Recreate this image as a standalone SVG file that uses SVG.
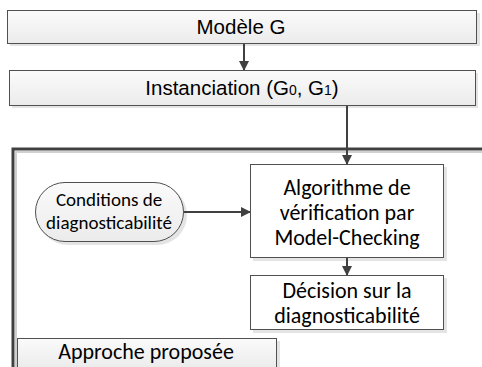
<svg xmlns="http://www.w3.org/2000/svg" width="482" height="367" viewBox="0 0 482 367">
<defs>
<linearGradient id="g1" x1="0" y1="0" x2="0" y2="1"><stop offset="0" stop-color="#fbfbfb"/><stop offset="1" stop-color="#ebebeb"/></linearGradient>
<marker id="ah" markerWidth="10" markerHeight="10" refX="9" refY="5" orient="auto" markerUnits="userSpaceOnUse"><path d="M0,0 L10,5 L0,10 z" fill="#404040"/></marker>
</defs>
<style>
.box{stroke:#505050;stroke-width:1}
.sh{fill:#e4e4e4}
.ta{font-family:"Liberation Sans",Arial,sans-serif;font-size:20.5px;fill:#000;text-anchor:middle}
.tc{font-family:Carlito,Lato,"Liberation Sans",sans-serif;font-size:22px;fill:#000;text-anchor:middle}
.ts{font-family:Carlito,Lato,"Liberation Sans",sans-serif;font-size:19px;fill:#000;text-anchor:middle}
.ln{stroke:#404040;stroke-width:2;fill:none}
</style>
<rect width="482" height="367" fill="#fff"/>
<g id="frame">
<path d="M16,367 V152 H482" stroke="#d0d0d0" stroke-width="2" fill="none"/>
<path d="M13,367 V149 H482" stroke="#404040" stroke-width="3" fill="none"/>
</g>
<g id="n1">
<rect class="sh" x="10" y="13" width="470" height="33"/>
<rect class="box" x="7.5" y="10.5" width="469" height="33" fill="url(#g1)"/>
<text class="ta" x="241" y="34">Modèle G</text>
</g>
<g id="n2">
<rect class="sh" x="12" y="73" width="466" height="35"/>
<rect class="box" x="9.5" y="70.5" width="466" height="35" fill="url(#g1)"/>
<text class="ta" x="242" y="95">Instanciation (G<tspan font-size="14">0</tspan>, G<tspan font-size="14">1</tspan>)</text>
</g>
<g id="n3">
<rect class="sh" x="253" y="167" width="194" height="94"/>
<rect class="box" x="250.5" y="164.5" width="193" height="93" fill="#fff"/>
<text class="tc" x="347" y="195">Algorithme de</text>
<text class="tc" x="347" y="220">vérification par</text>
<text class="tc" x="347" y="245">Model-Checking</text>
</g>
<g id="n4">
<rect class="sh" x="253" y="278" width="194" height="55"/>
<rect class="box" x="250.5" y="275.5" width="193" height="54" fill="#fff"/>
<text class="tc" x="347" y="298">Décision sur la</text>
<text class="tc" x="347" y="323">diagnosticabilité</text>
</g>
<g id="n5">
<rect class="sh" x="38" y="185" width="149" height="60" rx="30"/>
<rect class="box" x="35.5" y="182.5" width="148" height="59" rx="29.5" fill="url(#g1)"/>
<text class="ts" x="109" y="206">Conditions de</text>
<text class="ts" x="109" y="229">diagnosticabilité</text>
</g>
<g id="n6">
<rect class="sh" x="20" y="341" width="260" height="30"/>
<rect class="box" x="17.5" y="338.5" width="259" height="30" fill="url(#g1)"/>
<text class="tc" x="146" y="359" font-size="23">Approche proposée</text>
</g>
<g id="connectors">
<line class="ln" x1="244" y1="44" x2="244" y2="70" marker-end="url(#ah)"/>
<line class="ln" x1="347" y1="106" x2="347" y2="164" marker-end="url(#ah)"/>
<line class="ln" x1="184" y1="212" x2="250" y2="212" marker-end="url(#ah)"/>
<line class="ln" x1="347" y1="258" x2="347" y2="275" marker-end="url(#ah)"/>
</g>
</svg>
